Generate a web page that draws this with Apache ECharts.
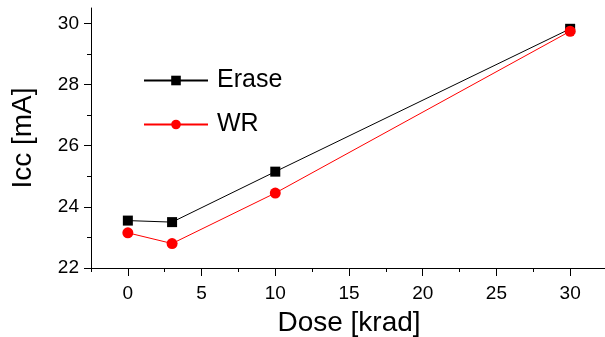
<!DOCTYPE html>
<html>
<head>
<meta charset="utf-8">
<script src="https://cdn.jsdelivr.net/npm/echarts@6/dist/echarts.min.js"></script>
<style>
  html, body { margin: 0; padding: 0; background: #fff; }
  #chart { width: 605px; height: 337px; }
</style>
</head>
<body>
<div id="chart"></div>
<script>
// dose [krad]
var dose = [0, 3, 10, 30];
// Icc [mA]
var erase = [23.55, 23.5, 25.15, 29.82];
var wr = [23.15, 22.8, 24.45, 29.74];

var xMajor = [0, 5, 10, 15, 20, 25, 30];
var xMinor = [-2.5, 2.5, 7.5, 12.5, 17.5, 22.5, 27.5];
var yMajor = [22, 24, 26, 28, 30];
var yMinor = [23, 25, 27, 29];

var FONT = "'Liberation Sans', Arial, sans-serif";

function pairs(xs, ys) {
    var out = [];
    for (var i = 0; i < xs.length; i++) {
        out.push([xs[i], ys[i]]);
    }
    return out;
}

var chart = echarts.init(document.getElementById("chart"));

var option = {
    backgroundColor: "#fff",
    animation: false,
    textStyle: { fontFamily: FONT },
    grid: { left: 91, right: -2, top: 8, bottom: 69, containLabel: false, outerBoundsMode: "none" },
    legend: {
        orient: "vertical",
        left: 138,
        top: 63,
        itemWidth: 64,
        itemHeight: 12,
        itemGap: 19,
        textStyle: { fontFamily: FONT, fontSize: 25, color: "#000", padding: [0, 0, 0, 4] },
        data: ["Erase", "WR"]
    },
    xAxis: [
        {
            type: "value",
            min: -2.5,
            max: 32.5,
            position: "bottom",
            name: "Dose [krad]",
            nameLocation: "middle",
            nameGap: 41,
            nameTextStyle: { fontFamily: FONT, fontSize: 28, color: "#000" },
            axisLine: { show: true, onZero: false, lineStyle: { color: "#000", width: 1 } },
            axisTick: { show: true, length: 8, customValues: xMajor, lineStyle: { color: "#000" } },
            axisLabel: { show: true, customValues: xMajor, margin: 16, fontFamily: FONT, fontSize: 19, color: "#000" },
            splitLine: { show: false }
        },
        {
            type: "value",
            min: -2.5,
            max: 32.5,
            position: "bottom",
            axisLine: { show: false, onZero: false },
            axisTick: { show: true, length: 4, customValues: xMinor, lineStyle: { color: "#000" } },
            axisLabel: { show: false },
            splitLine: { show: false }
        }
    ],
    yAxis: [
        {
            type: "value",
            min: 22,
            max: 30.5,
            position: "left",
            name: "Icc [mA]",
            nameLocation: "middle",
            nameGap: 54,
            nameTextStyle: { fontFamily: FONT, fontSize: 28, color: "#000" },
            axisLine: { show: true, onZero: false, lineStyle: { color: "#000", width: 1 } },
            axisTick: { show: true, length: 7, customValues: yMajor, lineStyle: { color: "#000" } },
            axisLabel: { show: true, customValues: yMajor, margin: 12, fontFamily: FONT, fontSize: 19, color: "#000" },
            splitLine: { show: false }
        },
        {
            type: "value",
            min: 22,
            max: 30.5,
            position: "left",
            axisLine: { show: false, onZero: false },
            axisTick: { show: true, length: 4, customValues: yMinor, lineStyle: { color: "#000" } },
            axisLabel: { show: false },
            splitLine: { show: false }
        }
    ],
    series: [
        {
            name: "Erase",
            type: "line",
            xAxisIndex: 0,
            yAxisIndex: 0,
            data: pairs(dose, erase),
            symbol: "rect",
            symbolSize: 10,
            itemStyle: { color: "#000" },
            lineStyle: { color: "#000", width: 1 }
        },
        {
            name: "WR",
            type: "line",
            xAxisIndex: 0,
            yAxisIndex: 0,
            data: pairs(dose, wr),
            symbol: "circle",
            symbolSize: 11,
            itemStyle: { color: "#ff0000" },
            lineStyle: { color: "#ff0000", width: 1 }
        }
    ]
};

chart.setOption(option);
</script>
</body>
</html>
